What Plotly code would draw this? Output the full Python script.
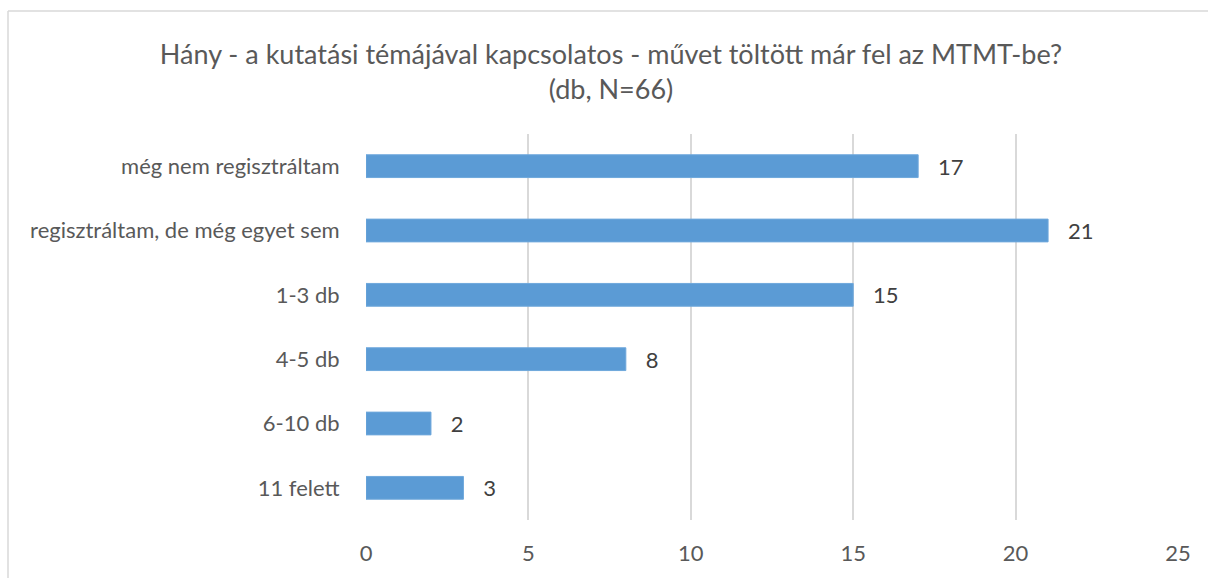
import plotly.graph_objects as go

categories = ["még nem regisztráltam", "regisztráltam, de még egyet sem", "1-3 db",
              "4-5 db", "6-10 db", "11 felett"]
values = [17, 21, 15, 8, 2, 3]
x_ticks = [0, 5, 10, 15, 20, 25]
title_text = "Hány - a kutatási témájával kapcsolatos - művet töltött már fel az MTMT-be?<br>(db, N=66)"

FONT = "Lato"
W, H = 1208, 578
# target page pixel positions of the plot area
L = 366
R = W - 1178
T = 134
B = H - 523
pw, ph = W - L - R, H - T - B

fig = go.Figure(go.Bar(
    x=values, y=categories, orientation="h",
    marker=dict(color="#5B9BD5", line=dict(color="#6FA8DC", width=1)),
    texttemplate="\u00a0\u00a0\u00a0%{x}", textposition="outside", constraintext="none",
    textfont=dict(family=FONT, size=22, color="#404040"),
    cliponaxis=False, width=0.354,
))

fig.update_layout(
    width=W, height=H,
    margin=dict(l=L, r=R, t=T, b=B),
    paper_bgcolor="white", plot_bgcolor="white",
    showlegend=False,
    title=dict(text=title_text, x=611 / W, xref="container", xanchor="center",
               y=1 - 64 / H, yanchor="middle",
               font=dict(family=FONT, size=27, color="#595959")),
    xaxis=dict(range=[0, 25], tickvals=x_ticks, showgrid=True, gridcolor="#D9D9D9",
               gridwidth=1.5, zeroline=False, showline=False,
               tickfont=dict(family=FONT, size=22, color="#595959"),
               ticks="outside", ticklen=14, tickcolor="rgba(0,0,0,0)", fixedrange=True),
    yaxis=dict(categoryorder="array", categoryarray=categories, autorange="reversed",
               showgrid=False, zeroline=False, showline=False, fixedrange=True,
               tickfont=dict(family=FONT, size=22, color="#595959"),
               ticks="outside", ticklen=21, tickcolor="rgba(0,0,0,0)"),
    shapes=[
        dict(type="rect", xref="paper", yref="paper",
             x0=(1193 - L) / pw, x1=(W + 5 - L) / pw,
             y0=-(B + 5) / ph, y1=(H - B + 5) / ph,
             line=dict(width=0), fillcolor="white", layer="above"),
        dict(type="line", xref="paper", yref="paper",
             x0=(8 - L) / pw, x1=(8 - L) / pw,
             y0=-(B + 5) / ph, y1=(H - B - 10) / ph,
             line=dict(color="#D9D9D9", width=1.5), layer="above"),
        dict(type="line", xref="paper", yref="paper",
             x0=(8 - L) / pw, x1=(W + 5 - L) / pw,
             y0=(H - B - 10) / ph, y1=(H - B - 10) / ph,
             line=dict(color="#D9D9D9", width=1.5), layer="above"),
    ],
)

fig.write_html("out.html", config={"displayModeBar": False},
               post_script="document.body.style.margin='0';document.body.style.overflow='hidden';")
